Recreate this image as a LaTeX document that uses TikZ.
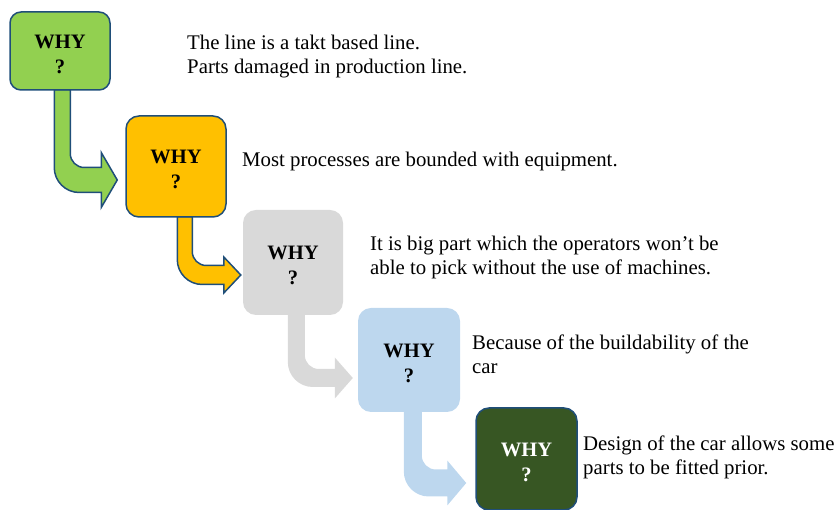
\documentclass[tikz,border=0pt]{standalone}
\usepackage{fontspec}
\setmainfont{Liberation Serif}
\usetikzlibrary{calc,backgrounds}

\definecolor{whyline}{HTML}{1F4E79}
\definecolor{whygreen}{HTML}{92D050}
\definecolor{whyorange}{HTML}{FFC000}
\definecolor{whygray}{HTML}{D9D9D9}
\definecolor{whyblue}{HTML}{BDD7EE}
\definecolor{whydark}{HTML}{375623}

\tikzset{
  whybox/.style={rounded corners=13pt, minimum width=100pt, minimum height=102pt,
    inner sep=0pt, align=center, text height=44.5pt, text depth=0pt,
    font=\fontsize{20.5}{25}\selectfont\bfseries},
  outline/.style={draw=whyline, line width=1.5pt},
  answer/.style={anchor=west, align=left, inner sep=0pt, font=\fontsize{20.8}{24}\selectfont},
}

% #1 style, #2 top left of the shaft, #3 tip, #4 shaft width,
% #5 half band, #6 half head, #7 head length
\newcommand{\bentarrow}[7]{%
  \path[#1] let \p1=(#2), \p2=(#3) in
    (\x1,\y1) -- (\x1+#4pt,\y1)
    [rounded corners=14pt] -- (\x1+#4pt,\y2+#5pt)
    [sharp corners] -- (\x2-#7pt,\y2+#5pt) -- (\x2-#7pt,\y2+#6pt) -- (\x2,\y2)
    -- (\x2-#7pt,\y2-#6pt) -- (\x2-#7pt,\y2-#5pt)
    [rounded corners=25pt] -- (\x1,\y2-#5pt)
    [sharp corners] -- cycle;}

\begin{document}
\begin{tikzpicture}[x=1pt,y=1pt]
\useasboundingbox (0,0) rectangle (837,510);

% the five whys
\node[whybox, outline, fill=whygreen, minimum height=78pt, rounded corners=11pt] (w1) at (60,459) {WHY\\?};
\node[whybox, outline, fill=whyorange, minimum height=101pt] (w2) at (176,343.5) {WHY\\?};
\node[whybox, fill=whygray, minimum height=105pt] (w3) at (293,247.5) {WHY\\?};
\node[whybox, fill=whyblue, minimum width=102pt, minimum height=104pt] (w4) at (409,150) {WHY\\?};
\node[whybox, outline, fill=whydark, text=white, minimum width=101pt] (w5) at (526.5,51) {WHY\\?};

% answers
\node[answer] (a1) at (187,453) {The line is a takt based line.\\Parts damaged in production line.};
\node[answer] (a2) at (242,348) {Most processes are bounded with equipment.};
\node[answer] (a3) at (370,252) {It is big part which the operators won't be\\able to pick without the use of machines.};
\node[answer] (a4) at (472,156) {Because of the buildability of the\\car};
\node[answer] (a5) at (583,53) {Design of the car allows some\\parts to be fitted prior.};

% bent arrows behind the boxes
\begin{pgfonlayer}{background}
\bentarrow{outline, fill=whygreen}{$(w1.south west)+(45,1)$}{$(w2.west)+(-8,-13.5)$}{16}{12.5}{27.5}{16}
\bentarrow{outline, fill=whyorange}{$(w2.south west)+(52,1)$}{$(w3.west)+(-2,-12.5)$}{15}{9.5}{18}{17}
\bentarrow{fill=whygray}{$(w3.south west)+(45,1)$}{$(w4.west)+(-5,-18)$}{17}{9}{20.5}{18}
\bentarrow{fill=whyblue}{$(w4.south west)+(46,1)$}{$(w5.west)+(-9,-24)$}{18}{13.5}{22.5}{19}
\end{pgfonlayer}
\end{tikzpicture}
\end{document}
